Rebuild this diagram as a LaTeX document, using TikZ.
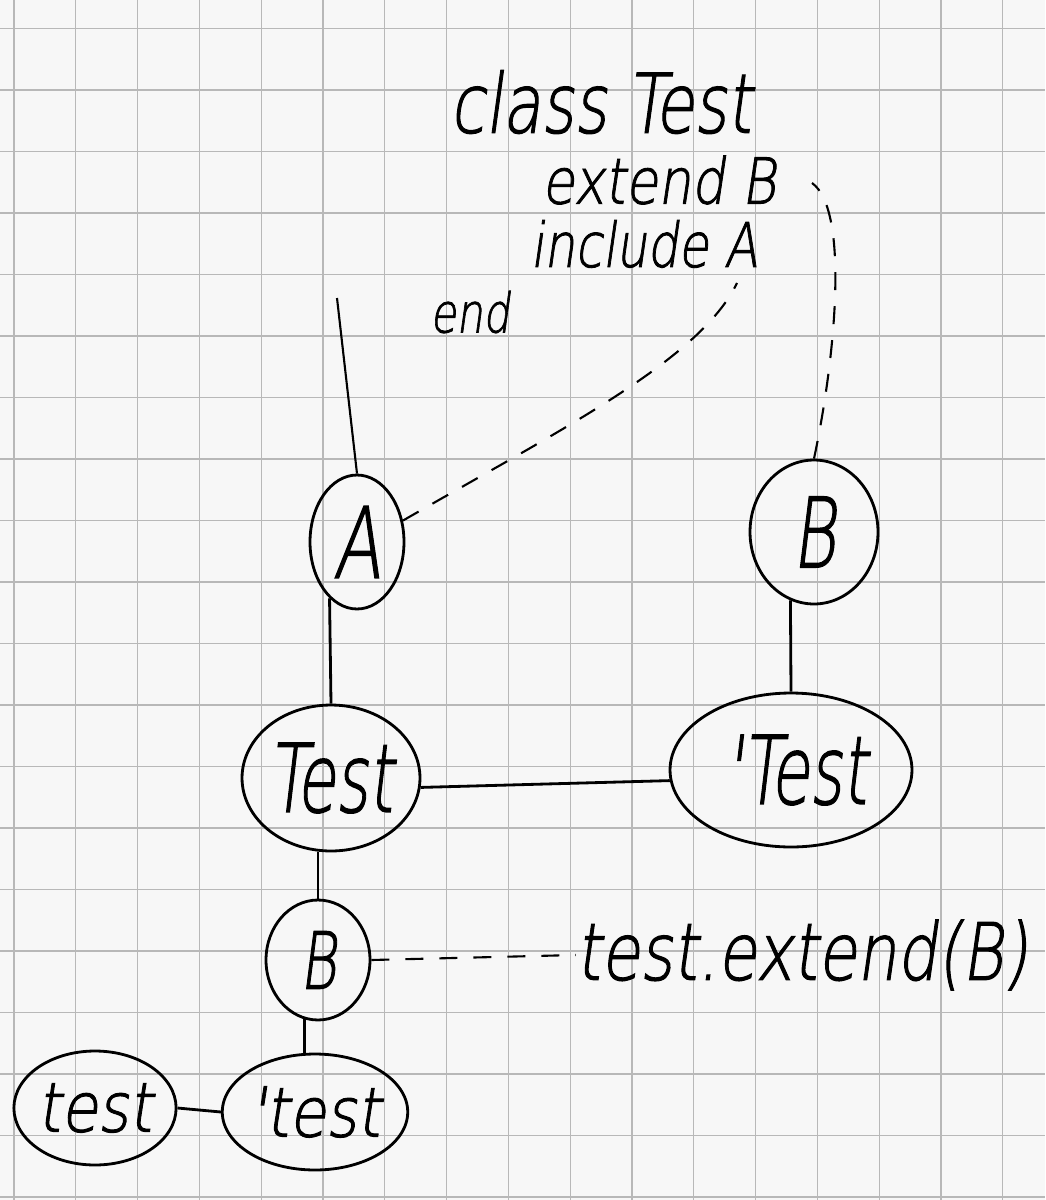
\documentclass[tikz,border=0pt]{standalone}
\usepackage{fontspec}
\setmainfont{Lato}
\newfontfamily\handfont{DejaVu Sans ExtraLight}[FakeSlant=0.18,FakeBold=1.5]
\usetikzlibrary{shapes.geometric}
\newcommand\hw[3]{\scalebox{1}[#2]{\fontsize{#1}{#1}\selectfont\handfont #3}}
\begin{document}
\begin{tikzpicture}[x=0.02cm,y=-0.02cm,
  paper/.style={fill=black!3,draw=none},
  gridln/.style={draw=black!28,line width=0.6pt},
  pen/.style={line width=1.6pt,draw=black},
  bubble/.style={ellipse,pen,inner sep=0pt},
  dsh/.style={line width=1.2pt,draw=black,dash pattern=on 0.36cm off 0.32cm},
  lbl/.style={inner sep=0pt}]
\path[paper] (0,0) rectangle (1045,1200);
\useasboundingbox (0,0) rectangle (1045,1200);
\foreach \k in {0,...,16} {\draw[gridln] ({14+61.8*\k},0) -- ({14+61.8*\k},1200);}
\foreach \k in {0,...,19} {\draw[gridln] (0,{28.5+61.5*\k}) -- (1045,{28.5+61.5*\k});}

% texts
\node[lbl] (cls) at (601,102) {\hw{36pt}{1.3}{class Test}};
\node[lbl] (ext) at (659,180) {\hw{30pt}{1.2}{extend B}};
\node[lbl] (inc) at (644,244) {\hw{28pt}{1.25}{include A}};
\node[lbl] (endw) at (470,312) {\hw{24pt}{1.3}{end}};
\node[lbl] (call) at (802,955) {\hw{36pt}{1.25}{test.extend(B)}};

% bubbles
\node[bubble,minimum width=1.88cm,minimum height=2.68cm] (A) at (357,542) {\hw{40pt}{1.4}{A}};
\node[bubble,minimum width=2.56cm,minimum height=2.88cm] (Bt) at (814,532) {\hw{38pt}{1.45}{B}};
\node[bubble,minimum width=3.56cm,minimum height=2.92cm] (T) at (331,778) {\hw{36pt}{1.5}{Test}};
\node[bubble,minimum width=4.84cm,minimum height=3.08cm] (Tq) at (791,770) {\hw{36pt}{1.5}{\,'Test}};
\node[bubble,minimum width=2.08cm,minimum height=2.4cm] (Bl) at (318,960) {\hw{32pt}{1.4}{B}};
\node[bubble,minimum width=3.2cm,minimum height=2.28cm] (t) at (95,1108) {\hw{34pt}{1.15}{test}};
\node[bubble,minimum width=3.6cm,minimum height=2.32cm] (tq) at (315,1112) {\hw{34pt}{1.15}{'test}};

\coordinate (top) at (337,298);
\coordinate (incA) at (737,283);
\coordinate (extB) at (812,183);

% connectors
\draw[pen,line width=1.2pt] (top) -- (A.north);
\draw[pen] (A.244) -- (T.north);
\draw[pen] (Bt.251) -- (Tq.north);
\draw[pen] (T.-6) -- (Tq.185);
\draw[pen] (Bl.north) -- (Bl.north |- T.south);
\draw[pen] (Bl.257) -- (Bl.257 |- tq.north);
\draw[pen] (t.east) -- (tq.west);
\draw[dsh] (Bl.east) -- (call.west);
\draw[dsh] (A.25) .. controls (560,430) and (700,360) .. (incA);
\draw[dsh] (Bt.north) .. controls (835,360) and (850,210) .. (extB);
\end{tikzpicture}
\end{document}
